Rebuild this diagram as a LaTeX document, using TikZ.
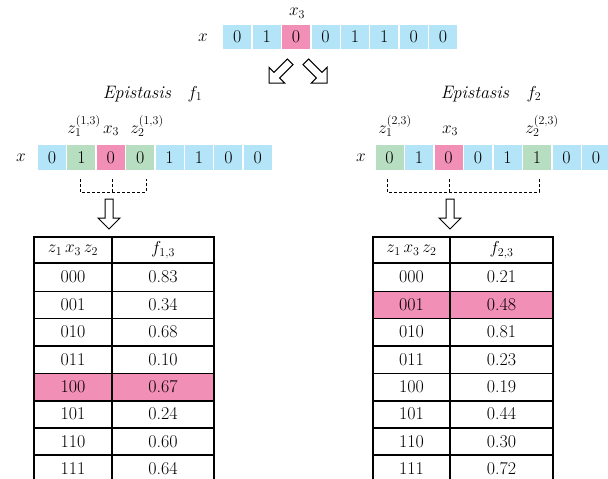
\documentclass[tikz,border=0pt]{standalone}
\usepackage{xcolor}
\definecolor{bitblue}{RGB}{180,228,247}
\definecolor{bitpink}{RGB}{241,143,182}
\definecolor{bitgreen}{RGB}{183,222,193}
\begin{document}
\begin{tikzpicture}
[x=1pt, y=-1pt,
 every node/.style={font=\fontsize{18}{21}\selectfont},
 bit/.style={minimum width=28pt, minimum height=24.5pt, inner sep=0pt, fill=bitblue},
 grid/.style={line width=1.1pt},
 bracket/.style={dash pattern=on 3pt off 2pt, line width=0.9pt},
 hollowdown/.pic={\draw[line width=1pt, fill=white, line join=miter]
   (-4,-30) -- (4,-30) -- (4,-11) -- (11,-11) -- (0,0) -- (-11,-11) -- (-4,-11) -- cycle;},
]
\useasboundingbox (0,0) rectangle (608,479);

%x (top)
\node (xtop) at (203,38) {$x$};
\node[anchor=base] (x3top) at (297,16) {$x_3$};
\node[bit] (t1) at (237.3,37) {0};
\node[bit] (t2) at (266.7,37) {1};
\node[bit, fill=bitpink] (t3) at (296.1,37) {0};
\node[bit] (t4) at (325.5,37) {0};
\node[bit] (t5) at (354.9,37) {1};
\node[bit] (t6) at (384.3,37) {1};
\node[bit] (t7) at (413.7,37) {0};
\node[bit] (t8) at (443.1,37) {0};

%split arrows
\pic[rotate=-45] at (269,83) {hollowdown};
\pic[rotate=45] at (327,83) {hollowdown};

%Epistasis f_1
\node[anchor=base] (epi1) at (137,98) {\textit{Epistasis}};
\node[anchor=base] (f1) at (195,98) {$f_1$};
\node[anchor=base] (za1) at (84,133) {$z_1^{(1,3)}$};
\node[anchor=base] (xa3) at (111,133) {$x_3$};
\node[anchor=base] (za2) at (147,133) {$z_2^{(1,3)}$};
\node (xa) at (21,158) {$x$};
\node[bit] (a1) at (52,157.5) {0};
\node[bit, fill=bitgreen] (a2) at (81.4,157.5) {1};
\node[bit, fill=bitpink] (a3) at (110.8,157.5) {0};
\node[bit, fill=bitgreen] (a4) at (140.2,157.5) {0};
\node[bit] (a5) at (169.6,157.5) {1};
\node[bit] (a6) at (199,157.5) {1};
\node[bit] (a7) at (228.4,157.5) {0};
\node[bit] (a8) at (257.8,157.5) {0};

\draw[bracket] (80,179) |- (146,192) -- (146,179);
\draw[bracket] (112,179) -- (112,192);
\pic at (109,229) {hollowdown};

%Epistasis f_2
\node[anchor=base] (epi2) at (475,98) {\textit{Epistasis}};
\node[anchor=base] (f2) at (534,98) {$f_2$};
\node[anchor=base] (zb1) at (395,133) {$z_1^{(2,3)}$};
\node[anchor=base] (xb3) at (450,133) {$x_3$};
\node[anchor=base] (zb2) at (542,133) {$z_2^{(2,3)}$};
\node (xb) at (361,158) {$x$};
\node[bit, fill=bitgreen] (b1) at (389.5,157.5) {0};
\node[bit] (b2) at (419,157.5) {1};
\node[bit, fill=bitpink] (b3) at (448.5,157.5) {0};
\node[bit] (b4) at (478,157.5) {0};
\node[bit] (b5) at (507.5,157.5) {1};
\node[bit, fill=bitgreen] (b6) at (537,157.5) {1};
\node[bit] (b7) at (566.5,157.5) {0};
\node[bit] (b8) at (596,157.5) {0};

\draw[bracket] (387,179) |- (539,192) -- (539,179);
\draw[bracket] (449,179) -- (449,192);
\pic at (450,229) {hollowdown};

%table f_{1,3}
\fill[bitpink] (34,373.5) rectangle (214,401);
\draw[grid] (34,490) -- (34,237) -- (214,237) -- (214,490);
\draw[grid] (112,237) -- (112,490);
\foreach \y in {263,291.5,318.5,346,373.5,401,428,455}
  \draw[grid] (34,\y) -- (214,\y);

\node (ph) at (73,250) {$z_1\,x_3\,z_2$};
\node (qh) at (163,250) {$f_{1,3}$};
\node (p1) at (73,277) {000};  \node (q1) at (163,277) {0.83};
\node (p2) at (73,305) {001};  \node (q2) at (163,305) {0.34};
\node (p3) at (73,332) {010};  \node (q3) at (163,332) {0.68};
\node (p4) at (73,360) {011};  \node (q4) at (163,360) {0.10};
\node (p5) at (73,387) {100};  \node (q5) at (163,387) {0.67};
\node (p6) at (73,414) {101};  \node (q6) at (163,414) {0.24};
\node (p7) at (73,441.5) {110};  \node (q7) at (163,441.5) {0.60};
\node (p8) at (73,468.5) {111};  \node (q8) at (163,468.5) {0.64};

%table f_{2,3}
\fill[bitpink] (373,291.5) rectangle (553,318.5);
\draw[grid] (373,490) -- (373,237) -- (553,237) -- (553,490);
\draw[grid] (450,237) -- (450,490);
\foreach \y in {263,291.5,318.5,346,373.5,401,428,455}
  \draw[grid] (373,\y) -- (553,\y);

\node (rh) at (411.5,250) {$z_1\,x_3\,z_2$};
\node (sh) at (501.5,250) {$f_{2,3}$};
\node (r1) at (411.5,277) {000};  \node (s1) at (501.5,277) {0.21};
\node (r2) at (411.5,305) {001};  \node (s2) at (501.5,305) {0.48};
\node (r3) at (411.5,332) {010};  \node (s3) at (501.5,332) {0.81};
\node (r4) at (411.5,360) {011};  \node (s4) at (501.5,360) {0.23};
\node (r5) at (411.5,387) {100};  \node (s5) at (501.5,387) {0.19};
\node (r6) at (411.5,414) {101};  \node (s6) at (501.5,414) {0.44};
\node (r7) at (411.5,441.5) {110};  \node (s7) at (501.5,441.5) {0.30};
\node (r8) at (411.5,468.5) {111};  \node (s8) at (501.5,468.5) {0.72};

\end{tikzpicture}
\end{document}
